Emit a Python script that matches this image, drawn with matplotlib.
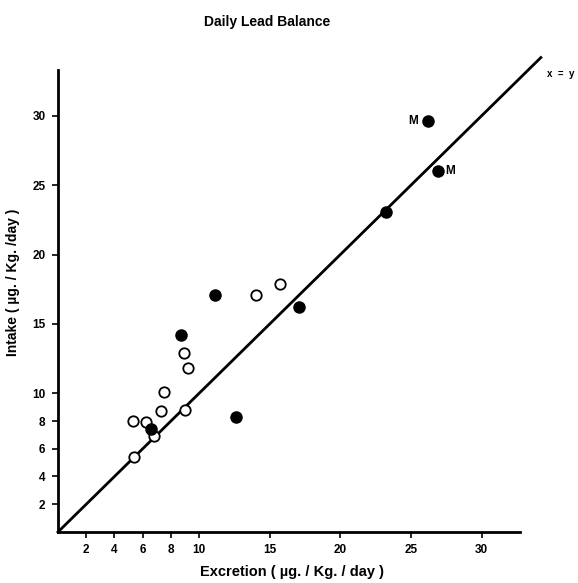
import matplotlib
matplotlib.use("Agg")
import matplotlib.pyplot as plt

plt.rcParams['font.family'] = ['Liberation Sans', 'DejaVu Sans']

# filled circles (excretion, intake)
filled_x = [11.1, 17.1, 8.7, 12.6, 6.6, 26.2, 26.9, 23.2]
filled_y = [17.1, 16.2, 14.2, 8.3, 7.4, 29.6, 26.0, 23.1]

# open circles
open_x = [14.0, 15.7, 8.9, 9.2, 7.5, 7.3, 9.0, 5.3, 6.2, 6.8, 5.4]
open_y = [17.1, 17.9, 12.9, 11.8, 10.1, 8.7, 8.8, 8.0, 7.9, 6.9, 5.4]

# M labels
m_points = [(26.2, 29.6, 'left'), (26.9, 26.0, 'right')]

# line x = y
diag = [0, 34.2]

xticks = [2, 4, 6, 8, 10, 15, 20, 25, 30]
yticks = [2, 4, 6, 8, 10, 15, 20, 25, 30]

fig = plt.figure(figsize=(5.78, 5.83), dpi=100)
ax = fig.add_axes([0.1003, 0.0875, 0.855, 0.809])

ax.plot(diag, diag, color='black', lw=2, clip_on=False, zorder=2)
ax.plot(open_x, open_y, 'o', ms=7.5, mfc='white', mec='black', mew=1.3, ls='none', zorder=3)
ax.plot(filled_x, filled_y, 'o', ms=8, color='black', ls='none', zorder=4)

for x, y, side in m_points:
    if side == 'left':
        ax.text(x - 0.7, y, 'M', ha='right', va='center', fontsize=8.5, fontweight='bold')
    else:
        ax.text(x + 0.5, y, 'M', ha='left', va='center', fontsize=8.5, fontweight='bold')

ax.text(34.6, 33.0, 'x  =  y', ha='left', va='center', fontsize=7, fontweight='bold', clip_on=False)

ax.set_xlim(0, 35)
ax.set_ylim(0, 34)
ax.spines['top'].set_visible(False)
ax.spines['right'].set_visible(False)
ax.spines['left'].set_linewidth(2)
ax.spines['bottom'].set_linewidth(2)
ax.spines['bottom'].set_bounds(0, 32.7)
ax.spines['left'].set_bounds(0, 33.3)

ax.set_xticks(xticks)
ax.set_yticks(yticks)
ax.tick_params(direction='out', length=4, width=1.2, labelsize=8.5, pad=5)
for lab in ax.get_xticklabels() + ax.get_yticklabels():
    lab.set_fontweight('bold')

ax.set_xlabel('Excretion ( µg. / Kg. / day )', fontsize=10.5, fontweight='bold')
ax.xaxis.set_label_coords(0.473, -0.069)
ax.set_ylabel('Intake ( µg. / Kg. /day )', fontsize=10, fontweight='bold')
ax.yaxis.set_label_coords(-0.077, 0.53)
fig.text(0.463, 0.963, 'Daily Lead Balance', ha='center', va='center', fontsize=10, fontweight='bold')

plt.savefig('out.png', dpi=100)
